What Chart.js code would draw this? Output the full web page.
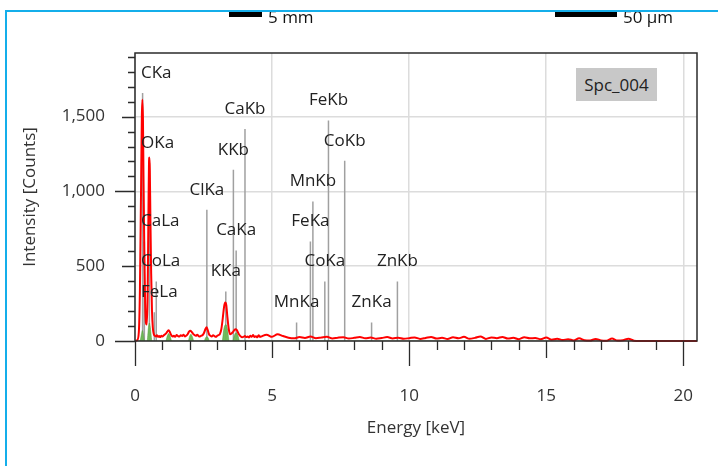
<!DOCTYPE html>
<html>
<head>
<meta charset="utf-8">
<script src="https://cdn.jsdelivr.net/npm/chart.js@4.4.1/dist/chart.umd.min.js"></script>
<style>
    body { margin: 0; width: 718px; height: 466px; overflow: hidden; position: relative; background: #fff; font-family: "Open Sans", sans-serif; }
    #spectrum { position: absolute; left: 0; top: 0; }
    .blue { position: absolute; background: #14aeea; }
    .clip { position: absolute; top: 11.5px; height: 16px; overflow: hidden; }
    .bar { position: absolute; top: 0; height: 5.5px; background: #000; }
    .sb { position: absolute; top: -7px; font-size: 17px; color: #111; white-space: nowrap; }
    #tag { position: absolute; left: 576px; top: 68px; width: 81px; height: 33px; background: #c8c8c8;
           font-size: 17px; line-height: 33px; text-align: center; color: #222; }
</style>
</head>
<body>
<canvas id="spectrum" width="718" height="466" style="width:718px;height:466px"></canvas>
<div class="blue" style="left:5px;top:9.5px;width:713px;height:2px"></div>
<div class="blue" style="left:5px;top:9.5px;width:2px;height:457px"></div>
<div class="clip" style="left:229px;width:100px"><div class="bar" style="left:0;width:33px"></div><div class="sb" style="left:39px">5 mm</div></div>
<div class="clip" style="left:555px;width:130px"><div class="bar" style="left:0;width:62px"></div><div class="sb" style="left:68px">50 µm</div></div>
<div id="tag">Spc_004</div>
<script>
const lowEnergy = [0.00, 0.08, 0.14, 0.18, 0.22, 0.25, 0.27, 0.29, 0.31, 0.34, 0.37, 0.40, 0.43, 0.46, 0.49, 0.51, 0.525, 0.54, 0.56, 0.59,
    0.62, 0.65, 0.68, 0.72, 0.76, 0.80, 0.84, 0.88, 0.92, 0.96, 1.00, 1.05, 1.10, 1.15, 1.20, 1.23, 1.27, 1.32, 1.37, 1.42,
    1.47, 1.52, 1.57, 1.62, 1.67, 1.72, 1.77, 1.82, 1.87, 1.92, 1.97, 2.02, 2.07, 2.12, 2.17, 2.22, 2.27, 2.32, 2.37, 2.42,
    2.47, 2.52, 2.57, 2.61, 2.65, 2.70, 2.75, 2.80, 2.85, 2.90, 2.95, 3.00, 3.05, 3.10, 3.15, 3.20, 3.25, 3.29, 3.33, 3.37,
    3.42, 3.47, 3.52, 3.57, 3.62, 3.67, 3.71, 3.76, 3.81, 3.86, 3.91, 3.96, 4.01, 4.06, 4.11, 4.16, 4.21, 4.26, 4.31, 4.36,
    4.41, 4.46, 4.51, 4.56];
const lowCounts = [0, 5, 60, 350, 1000, 1500, 1613, 1480, 1100, 600, 250, 120, 110, 300, 850, 1180, 1227, 1150, 850, 450,
    200, 90, 50, 35, 30, 38, 28, 33, 26, 35, 30, 38, 45, 55, 68, 72, 60, 40, 30, 35,
    28, 40, 33, 30, 38, 34, 42, 30, 36, 45, 62, 68, 60, 48, 40, 35, 42, 33, 30, 36,
    40, 55, 80, 92, 75, 45, 35, 30, 38, 32, 28, 35, 40, 48, 80, 150, 230, 257, 240, 160,
    80, 45, 50, 60, 72, 78, 75, 55, 40, 30, 25, 28, 33, 26, 30, 24, 35, 28, 40, 26,
    32, 25, 38, 27];
const highEnergy = [4.6, 4.8, 5.0, 5.2, 5.4, 5.6, 5.8, 6.0, 6.2, 6.4, 6.6, 6.8, 7.0, 7.2, 7.4, 7.6, 7.8, 8.0, 8.2, 8.4,
    8.6, 8.8, 9.0, 9.2, 9.4, 9.6, 9.8, 10.0, 10.2, 10.4, 10.6, 10.8, 11.0, 11.2, 11.4, 11.6, 11.8, 12.0, 12.2, 12.4,
    12.6, 12.8, 13.0, 13.2, 13.4, 13.6, 13.8, 14.0, 14.2, 14.4, 14.6, 14.8, 15.0, 15.2, 15.4, 15.6, 15.8, 16.0, 16.2, 16.4,
    16.6, 16.8, 17.0, 17.2, 17.4, 17.6, 17.8, 18.0, 18.2, 18.4, 20.5];
const highCounts = [30, 42, 28, 45, 33, 22, 18, 26, 20, 30, 19, 24, 28, 17, 22, 25, 16, 21, 27, 18,
    23, 15, 20, 26, 17, 22, 15, 19, 24, 14, 20, 27, 16, 22, 13, 25, 18, 28, 15, 21,
    30, 14, 24, 19, 27, 16, 22, 12, 25, 18, 20, 11, 23, 9, 15, 6, 12, 4, 18, 5,
    3, 14, 4, 2, 16, 3, 5, 15, 2, 0, 0];

// fitted peak areas (green)
const fitEnergy = [0.00, 0.18, 0.24, 0.27, 0.30, 0.35, 0.44, 0.49, 0.525, 0.56, 0.62, 1.12, 1.18, 1.23, 1.28, 1.34,
    1.94, 1.99, 2.04, 2.09, 2.15, 2.52, 2.57, 2.62, 2.67, 2.72, 3.18, 3.24, 3.31, 3.37, 3.44, 3.56, 3.63, 3.69, 3.75, 3.82, 20.5];
const fitCounts = [0, 0, 50, 70, 50, 0, 0, 90, 120, 90, 0, 0, 35, 50, 35, 0,
    0, 30, 45, 30, 0, 0, 20, 30, 20, 0, 0, 80, 110, 80, 0, 0, 40, 55, 40, 0, 0];

// element line markers
const markerNames = ['CKa', 'CaLa', 'OKa', 'FeLa', 'CoLa', 'ClKa', 'KKa', 'KKb', 'CaKa', 'CaKb',
    'MnKa', 'FeKa', 'MnKb', 'CoKa', 'FeKb', 'CoKb', 'ZnKa', 'ZnKb'];
const markerEnergy = [0.277, 0.341, 0.525, 0.705, 0.776, 2.621, 3.312, 3.589, 3.690, 4.012,
    5.894, 6.398, 6.489, 6.924, 7.057, 7.649, 8.630, 9.572];
const markerHeight = [1658, 665, 1190, 192, 398, 877, 331, 1144, 605, 1417,
    124, 665, 933, 398, 1473, 1204, 124, 398];

const xTicks = [0, 5, 10, 15, 20];
const yTicks = [0, 500, 1000, 1500];

const FONT = '"Open Sans", sans-serif';

const spectrumPoints = lowEnergy.map((e, i) => ({x: e, y: lowCounts[i]}))
    .concat(highEnergy.map((e, i) => ({x: e, y: highCounts[i]})));
const fitPoints = fitEnergy.map((e, i) => ({x: e, y: fitCounts[i]}));
const markerPoints = [];
markerEnergy.forEach((e, i) => {
    markerPoints.push({x: e, y: 0}, {x: e, y: markerHeight[i]}, {x: e, y: null});
});

// frame, three-level tick marks and the element labels
const decorations = {
    id: 'decorations',
    afterDatasetsDraw(chart) {
        const {ctx, chartArea: a, scales: {x, y}} = chart;
        ctx.save();
        ctx.strokeStyle = '#2b2b2b';
        ctx.lineWidth = 1.5;
        ctx.strokeRect(a.left, a.top, a.right - a.left, a.bottom - a.top);

        ctx.lineWidth = 1.3;
        ctx.beginPath();
        for (let v = 0; v <= 20; v++) {
            const px = Math.round(x.getPixelForValue(v)) + 0.5;
            const len = v % 10 === 0 ? 25 : (v % 5 === 0 ? 17 : 9);
            ctx.moveTo(px, a.bottom);
            ctx.lineTo(px, a.bottom + len);
        }
        for (let v = 0; v <= 1900; v += 100) {
            const py = Math.round(y.getPixelForValue(v)) + 0.5;
            const len = v % 1000 === 0 ? 20 : (v % 500 === 0 ? 13 : 7);
            ctx.moveTo(a.left, py);
            ctx.lineTo(a.left - len, py);
        }
        ctx.stroke();

        ctx.font = '17px ' + FONT;
        ctx.fillStyle = '#222';
        ctx.textBaseline = 'middle';
        ctx.textAlign = 'left';
        markerNames.forEach((name, i) => {
            const px = x.getPixelForValue(markerEnergy[i]);
            const py = y.getPixelForValue(markerHeight[i]) - 20;
            const w = ctx.measureText(name).width;
            const left = Math.max(px - w / 2, a.left + 6);
            ctx.fillText(name, left, py);
        });
        ctx.restore();
    }
};

const chart = new Chart(document.getElementById('spectrum'), {
    type: 'line',
    data: {
        datasets: [
            {
                data: spectrumPoints,
                borderColor: '#ff0000',
                borderWidth: 2,
                pointRadius: 0,
                cubicInterpolationMode: 'monotone',
                clip: {left: 0, top: 0, right: 0, bottom: 2}
            },
            {
                data: fitPoints,
                borderColor: '#4e9a3a',
                borderWidth: 0.5,
                backgroundColor: 'rgba(108, 184, 84, 0.95)',
                fill: 'origin',
                pointRadius: 0,
                cubicInterpolationMode: 'monotone'
            },
            {
                data: markerPoints,
                borderColor: '#a0a0a0',
                borderWidth: 1.5,
                pointRadius: 0,
                spanGaps: false
            }
        ]
    },
    options: {
        responsive: false,
        animation: false,
        locale: 'en-US',
        layout: {padding: {top: 53, right: 21, left: 0, bottom: 0}},
        plugins: {legend: {display: false}, tooltip: {enabled: false}},
        scales: {
            x: {
                type: 'linear',
                min: 0,
                max: 20.5,
                afterBuildTicks: s => { s.ticks = xTicks.map(v => ({value: v})); },
                afterFit: s => { s.height = 125; s.paddingLeft = 0; s.paddingRight = 0; },
                grid: {color: '#dcdcdc', lineWidth: 1.5, drawTicks: false},
                border: {display: false},
                ticks: {padding: 45, color: '#333', font: {family: FONT, size: 17}, maxRotation: 0},
                title: {display: true, text: 'Energy [keV]', color: '#333', font: {family: FONT, size: 17}, padding: {top: 0, bottom: 28}}
            },
            y: {
                type: 'linear',
                min: 0,
                max: 1925,
                afterBuildTicks: s => { s.ticks = yTicks.map(v => ({value: v})); },
                afterFit: s => { s.width = 135; s.paddingTop = 0; s.paddingBottom = 0; },
                grid: {color: '#dcdcdc', lineWidth: 1.5, drawTicks: false},
                border: {display: false},
                ticks: {padding: 30, color: '#333', font: {family: FONT, size: 17}},
                title: {display: true, text: 'Intensity [Counts]', color: '#333', font: {family: FONT, size: 17}, padding: {top: 20, bottom: 0}}
            }
        }
    },
    plugins: [decorations]
});
</script>
</body>
</html>
